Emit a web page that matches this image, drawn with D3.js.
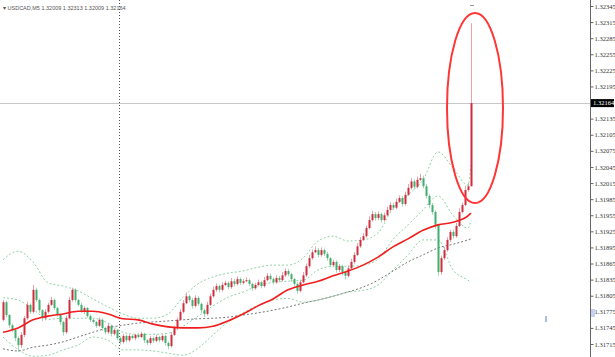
<!DOCTYPE html>
<html>
<head>
<meta charset="utf-8">
<script src="https://cdn.jsdelivr.net/npm/d3@7"></script>
<style>
  body { margin: 0; background: #fff; }
  svg { display: block; }
  .tick text { font-family: "Liberation Serif", serif; font-size: 6.5px; fill: #333; }
</style>
</head>
<body>
<svg id="chart" width="615" height="357"></svg>
<script>
// USDCAD M5 candles, oldest first (each bar opens at the previous close)
const symbol = "USDCAD,M5";
const lastBar = { open: 1.32009, high: 1.32313, low: 1.32009, close: 1.32164 };
const firstOpen = 1.31760;
const closes = [
  1.31793, 1.31769, 1.31750, 1.31741, 1.31726, 1.31713, 1.31732, 1.31763, 1.31788, 1.31775,
  1.31816, 1.31797, 1.31778, 1.31763, 1.31775, 1.31788, 1.31797, 1.31782, 1.31769, 1.31756,
  1.31737, 1.31763, 1.31797, 1.31816, 1.31797, 1.31788, 1.31775, 1.31782, 1.31767, 1.31760,
  1.31756, 1.31749, 1.31760, 1.31745, 1.31737, 1.31749, 1.31734, 1.31741, 1.31726, 1.31719,
  1.31730, 1.31722, 1.31730, 1.31726, 1.31732, 1.31728, 1.31734, 1.31722, 1.31717, 1.31726,
  1.31721, 1.31728, 1.31722, 1.31730, 1.31717, 1.31711, 1.31732, 1.31745, 1.31760, 1.31775,
  1.31791, 1.31804, 1.31797, 1.31786, 1.31801, 1.31790, 1.31778, 1.31771, 1.31788, 1.31804,
  1.31816, 1.31823, 1.31816, 1.31825, 1.31829, 1.31821, 1.31832, 1.31827, 1.31836, 1.31829,
  1.31832, 1.31834, 1.31827, 1.31819, 1.31825, 1.31830, 1.31823, 1.31834, 1.31842, 1.31836,
  1.31830, 1.31838, 1.31834, 1.31843, 1.31851, 1.31845, 1.31836, 1.31827, 1.31814, 1.31830,
  1.31843, 1.31860, 1.31875, 1.31886, 1.31890, 1.31881, 1.31890, 1.31883, 1.31875, 1.31862,
  1.31868, 1.31853, 1.31860, 1.31849, 1.31842, 1.31856, 1.31868, 1.31881, 1.31897, 1.31909,
  1.31916, 1.31931, 1.31946, 1.31957, 1.31950, 1.31957, 1.31946, 1.31955, 1.31965, 1.31974,
  1.31969, 1.31980, 1.31987, 1.31976, 1.31993, 1.32006, 1.32018, 1.32008, 1.32021, 1.32024,
  1.32009, 1.31991, 1.31974, 1.31961, 1.31937, 1.31849, 1.31875, 1.31890, 1.31909, 1.31924,
  1.31916, 1.31935, 1.31961, 1.31974, 1.32002, 1.32009, 1.32164
];
// wick lengths above / below the body, in points (0.00001)
const wickUp = [
  4,3,2,3,2,3,5,4,6,3, 9,4,3,2,5,4,6,3,2,3, 2,5,6,4,3,2,4,3,2,3, 3,2,4,3,2,5,2,3,2,3,
  4,2,3,3,2,3,4,2,2,4, 3,4,2,3,2,3,5,4,4,5, 6,7,3,4,5,3,2,3,6,5, 6,5,3,5,4,3,6,4,5,3,
  4,5,3,2,4,5,3,6,5,4, 3,5,4,6,5,4,3,2,3,5, 6,5,6,5,7,4,5,3,4,2, 4,3,4,3,3,5,6,5,6,5,
  6,5,7,6,4,5,3,5,6,5, 4,6,5,4,6,7,6,4,6,8, 5,4,3,4,3,2,5,6,5,4, 4,6,7,5,8,6,149
];
const wickDn = [
  3,4,5,4,6,13,5,4,3,4, 3,4,5,6,4,3,2,4,3,5, 6,3,2,3,4,3,2,4,3,4, 3,4,2,5,4,3,5,3,4,5,
  3,4,3,2,4,3,2,5,4,3, 4,3,4,3,5,6,3,2,3,2, 3,2,4,5,3,4,5,6,3,2, 3,4,5,3,2,4,3,5,3,4,
  3,2,4,5,3,2,4,3,2,3, 4,3,4,2,3,4,5,6,5,3, 2,3,4,3,2,5,3,4,5,4, 3,5,4,6,7,3,2,3,2,3,
  2,3,2,3,5,4,5,3,2,3, 4,3,2,5,3,2,3,5,3,2, 4,5,6,5,7,7,5,4,3,4, 5,3,2,3,2,3,0
];

// indicator readings at every 5th bar (plus the last one)
const lineIdx = [0,5,10,15,20,25,30,35,40,45,50,55,60,65,70,75,80,85,90,95,100,105,110,115,120,125,130,135,140,145,150,155,156];
const maFast = [1.31737,1.31745,1.31760,1.31767,1.31771,1.31776,1.31776,1.31771,1.31762,1.31760,1.31752,1.31747,1.31745,1.31745,1.31748,1.31758,1.31771,1.31786,1.31799,1.31816,1.31825,1.31832,1.31842,1.31851,1.31862,1.31877,1.31896,1.31911,1.31927,1.31937,1.31942,1.31954,1.31959];
const maSlow = [1.31706,1.31702,1.31709,1.31713,1.31719,1.31728,1.31737,1.31745,1.31750,1.31754,1.31756,1.31758,1.31760,1.31762,1.31763,1.31765,1.31769,1.31773,1.31778,1.31784,1.31791,1.31797,1.31804,1.31812,1.31821,1.31834,1.31851,1.31868,1.31881,1.31894,1.31901,1.31909,1.31911];
const bbUpper = [1.31872,1.31888,1.31868,1.31829,1.31823,1.31814,1.31799,1.31784,1.31771,1.31763,1.31763,1.31771,1.31802,1.31827,1.31840,1.31847,1.31851,1.31858,1.31862,1.31862,1.31875,1.31907,1.31916,1.31907,1.31909,1.31922,1.31968,1.31993,1.32021,1.32073,1.32043,1.32011,1.32048];
const bbMid = [1.31801,1.31797,1.31780,1.31761,1.31763,1.31763,1.31763,1.31754,1.31737,1.31733,1.31733,1.31735,1.31748,1.31767,1.31786,1.31802,1.31812,1.31823,1.31830,1.31832,1.31834,1.31853,1.31860,1.31860,1.31862,1.31873,1.31910,1.31937,1.31965,1.31991,1.31955,1.31931,1.31946];
const bbLower = [1.31728,1.31705,1.31692,1.31694,1.31704,1.31713,1.31728,1.31722,1.31704,1.31704,1.31702,1.31698,1.31694,1.31707,1.31732,1.31756,1.31773,1.31787,1.31797,1.31800,1.31793,1.31797,1.31804,1.31812,1.31815,1.31825,1.31853,1.31881,1.31909,1.31909,1.31853,1.31834,1.31830];

const priceTicks = [1.32345,1.32315,1.32285,1.32255,1.32225,1.32195,1.32135,1.32105,1.32075,1.32045,1.32015,1.31985,1.31955,1.31925,1.31895,1.31865,1.31835,1.31805,1.31775,1.31745,1.31715];

const svg = d3.select("#chart");
const W = 615, H = 357;
const axisX = 590;

const x = d3.scaleLinear().domain([0, closes.length - 1]).range([3, 471]);
const y = d3.scaleLinear().domain([1.31715, 1.32345]).range([344, 6]);

// build bars
const bars = closes.map((c, i) => {
  const o = i === 0 ? firstOpen : closes[i - 1];
  return {
    i: i, open: o, close: c,
    high: Math.max(o, c) + wickUp[i] / 100000,
    low: Math.min(o, c) - wickDn[i] / 100000
  };
});

// vertical dotted separator
svg.append("line")
  .attr("x1", 119.5).attr("x2", 119.5).attr("y1", 0).attr("y2", H)
  .attr("stroke", "#555").attr("stroke-dasharray", "1,2");

// current price line
svg.append("line")
  .attr("x1", 0).attr("x2", axisX).attr("y1", Math.round(y(lastBar.close)) + 0.5).attr("y2", Math.round(y(lastBar.close)) + 0.5)
  .attr("stroke", "#c8c8c8");

// indicator lines
const pts = (arr) => lineIdx.map((k, j) => [x(k), y(arr[j])]);
const line = d3.line().curve(d3.curveMonotoneX);

[bbUpper, bbMid, bbLower].forEach(arr => {
  svg.append("path").attr("d", line(pts(arr)))
    .attr("fill", "none").attr("stroke", "#8fd3a6").attr("stroke-width", 1)
    .attr("stroke-dasharray", "2,2");
});
svg.append("path").attr("d", line(pts(maSlow)))
  .attr("fill", "none").attr("stroke", "#777").attr("stroke-width", 1)
  .attr("stroke-dasharray", "2,2");

// candles
const g = svg.append("g");
g.selectAll("line.wick").data(bars).join("line")
  .attr("class", "wick")
  .attr("x1", d => Math.round(x(d.i)) + 0.5).attr("x2", d => Math.round(x(d.i)) + 0.5)
  .attr("y1", d => y(d.high)).attr("y2", d => y(d.low))
  .attr("stroke", d => d.close >= d.open ? "#e6a3ab" : "#a9d6b8");
g.selectAll("rect.body").data(bars).join("rect")
  .attr("class", "body")
  .attr("x", d => Math.round(x(d.i)) - 0.5)
  .attr("width", 2)
  .attr("y", d => y(Math.max(d.open, d.close)))
  .attr("height", d => Math.max(1, Math.abs(y(d.open) - y(d.close))))
  .attr("fill", d => d.close >= d.open ? "#cf2e3e" : "#3fae6e");

svg.append("path").attr("d", line(pts(maFast)))
  .attr("fill", "none").attr("stroke", "#f01e1e").attr("stroke-width", 1.6);

// highlight ellipse
svg.append("ellipse")
  .attr("cx", 475).attr("cy", 108).attr("rx", 28).attr("ry", 95)
  .attr("fill", "none").attr("stroke", "#ff3636").attr("stroke-width", 2);

// high marker
svg.append("line").attr("x1", 470).attr("x2", 474).attr("y1", 5.5).attr("y2", 5.5)
  .attr("stroke", "#999");

// right price axis
svg.append("line").attr("x1", axisX + 0.5).attr("x2", axisX + 0.5).attr("y1", 0).attr("y2", H)
  .attr("stroke", "#666");
const axis = d3.axisRight(y).tickValues(priceTicks).tickSize(3).tickSizeOuter(0)
  .tickFormat(d3.format(".5f"));
const ax = svg.append("g").attr("transform", `translate(${axisX + 0.5},0)`).call(axis);
ax.select(".domain").remove();
ax.selectAll(".tick line").attr("stroke", "#666");
ax.selectAll(".tick text").attr("x", 4);

// last price label
const ly = y(lastBar.close);
svg.append("rect").attr("x", axisX + 1).attr("y", ly - 4).attr("width", 23).attr("height", 8).attr("fill", "#000");
svg.append("text").attr("x", axisX + 3).attr("y", ly + 2.3)
  .attr("font-family", "Liberation Serif, serif").attr("font-size", 6.5).attr("fill", "#fff")
  .text(d3.format(".5f")(lastBar.close));

// small bluish marks
svg.append("rect").attr("x", 545).attr("y", 316).attr("width", 2).attr("height", 6).attr("fill", "#a9bde6");
svg.append("rect").attr("x", 591).attr("y", 309).attr("width", 4).attr("height", 8).attr("fill", "#c3d2f0");

// title
svg.append("text").attr("x", 3).attr("y", 10)
  .attr("font-family", "Liberation Sans, sans-serif").attr("font-size", 5.5).attr("fill", "#555")
  .text(`\u25BE ${symbol}  ${lastBar.open.toFixed(5)} ${lastBar.high.toFixed(5)} ${lastBar.low.toFixed(5)} ${lastBar.close.toFixed(5)}`);
</script>
</body>
</html>
